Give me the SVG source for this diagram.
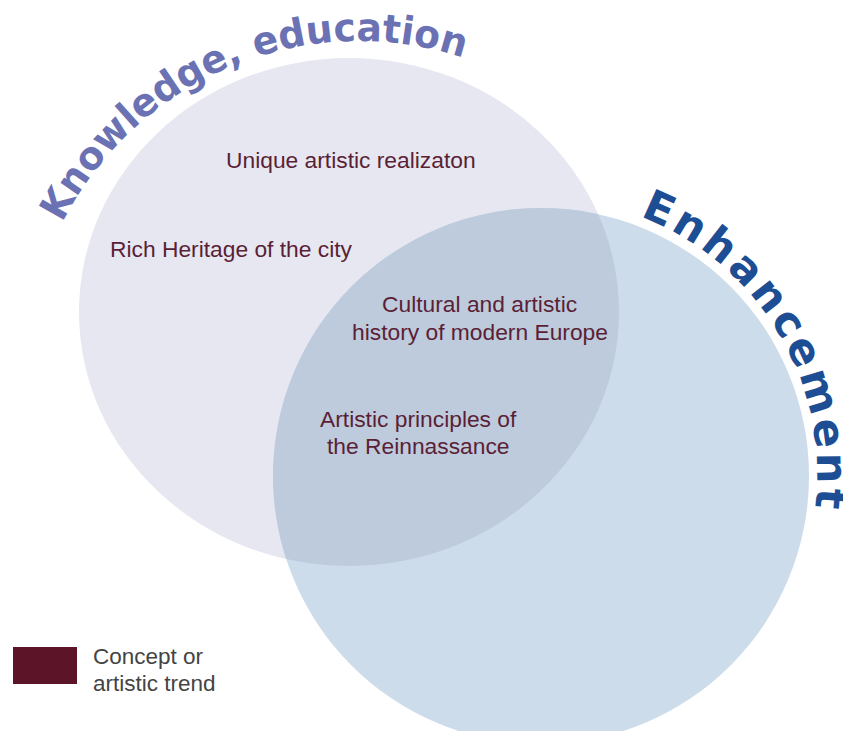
<svg xmlns="http://www.w3.org/2000/svg" xmlns:xlink="http://www.w3.org/1999/xlink" width="843" height="731" viewBox="0 0 843 731">
<style>
  .concept { font-family: "Liberation Sans", Arial, sans-serif; font-size: 22.8px; fill: #5b1f35; }
  .legend { font-family: "Liberation Sans", Arial, sans-serif; font-size: 22.5px; fill: #444444; }
  .arc { font-family: "DejaVu Sans", sans-serif; font-weight: bold; }
</style>
<defs>
  <clipPath id="clipK">
    <ellipse cx="349" cy="312" rx="270" ry="254"/>
  </clipPath>
  <path id="arcK" d="M62.3,222.8 A333,333 0 0 1 525.5,85.6"/>
  <path id="arcE" d="M639.9,216.3 A276,276 0 0 1 800.4,568.4"/>
</defs>
<rect width="843" height="731" fill="#ffffff"/>
<g id="circle-knowledge">
  <ellipse cx="349" cy="312" rx="270" ry="254" fill="#e6e7f1"/>
</g>
<g id="circle-enhancement">
  <circle cx="541" cy="476" r="268" fill="#cddcea"/>
</g>
<g id="overlap">
  <circle cx="541" cy="476" r="268" fill="#bdcbdd" clip-path="url(#clipK)"/>
</g>
<g id="label-knowledge">
  <text class="arc" font-size="39" fill="#6b72b3"><textPath xlink:href="#arcK" href="#arcK" textLength="472" lengthAdjust="spacingAndGlyphs">Knowledge, education</textPath></text>
</g>
<g id="label-enhancement">
  <text class="arc" font-size="43" fill="#1d4e94"><textPath xlink:href="#arcE" href="#arcE" textLength="366">Enhancement</textPath></text>
</g>
<g id="node-unique">
  <text class="concept" x="226" y="168">Unique artistic realizaton</text>
</g>
<g id="node-heritage">
  <text class="concept" x="110" y="257">Rich Heritage of the city</text>
</g>
<g id="node-cultural">
  <text class="concept" x="382" y="312">Cultural and artistic</text>
  <text class="concept" x="352" y="340">history of modern Europe</text>
</g>
<g id="node-principles">
  <text class="concept" x="320" y="427">Artistic principles of</text>
  <text class="concept" x="327" y="454">the Reinnassance</text>
</g>
<g id="legend">
  <rect x="13" y="647" width="64" height="37" fill="#5c1428"/>
  <text class="legend" x="93" y="664">Concept or</text>
  <text class="legend" x="93" y="691">artistic trend</text>
</g>
<g id="connectors"/>
</svg>
